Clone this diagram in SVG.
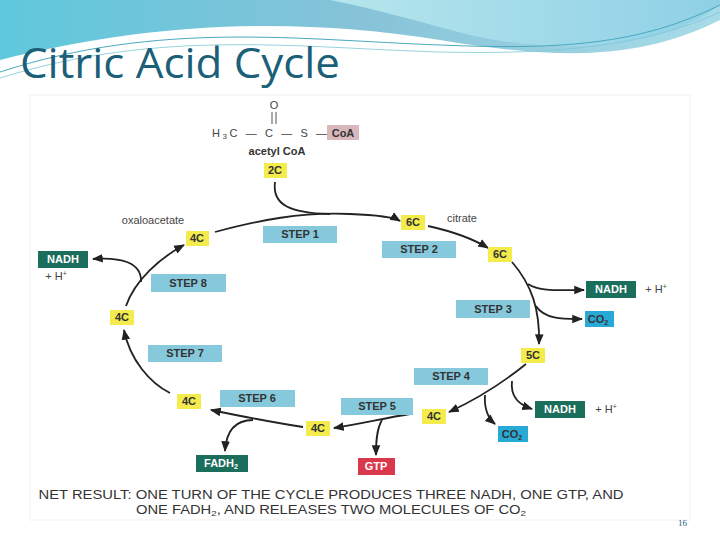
<svg xmlns="http://www.w3.org/2000/svg" width="720" height="540" viewBox="0 0 720 540">
<defs>
<linearGradient id="hdr" x1="0" y1="0" x2="1" y2="0"><stop offset="0" stop-color="#5fc8dc"/><stop offset="0.5" stop-color="#86c3d8"/><stop offset="1" stop-color="#a8dbe8"/></linearGradient>
<linearGradient id="hdr2" x1="0" y1="0" x2="1" y2="0"><stop offset="0" stop-color="#b6e6ec"/><stop offset="1" stop-color="#8fd0e6"/></linearGradient>
<marker id="ah" viewBox="0 0 10 10" refX="9" refY="5" markerWidth="6" markerHeight="6" orient="auto"><path d="M0,1 L10,5 L0,9 z" fill="#222"/></marker>
<style>
.c{fill:none;stroke:#222;stroke-width:1.8;marker-end:url(#ah)}
.y{fill:#f3ec4c}
.st{fill:#86c9dc}
.g{fill:#1b6d5c}
.cy{fill:#28a9d6}
.t{font-family:"Liberation Sans",Arial,sans-serif;font-weight:bold;font-size:11px;text-anchor:middle;fill:#333}
.tw{font-family:"Liberation Sans",Arial,sans-serif;font-weight:bold;font-size:11px;text-anchor:middle;fill:#fff}
.n{font-family:"Liberation Sans",Arial,sans-serif;font-size:11px;fill:#444}
.nr{font-family:"Liberation Sans",Arial,sans-serif;font-size:12px;fill:#333;text-anchor:middle}
</style>
</defs>
<rect width="720" height="540" fill="#fff"/>
<path d="M0,0 H720 V20 C640,60 560,60 440,40 C300,18 160,20 0,60 Z" fill="url(#hdr)"/>
<path d="M330,0 H720 V5 C660,50 560,55 470,35 C420,22 380,10 330,0 Z" fill="url(#hdr2)"/>
<path d="M0,72 C160,20 300,40 440,45 C560,50 640,45 720,5" fill="none" stroke="#4aa8c0" stroke-width="1"/>
<path d="M0,78 C160,28 300,48 440,52 C560,55 650,45 720,12" fill="none" stroke="#7cc6d6" stroke-width="0.8"/>
<text x="20" y="78" font-family="Open Sans,'Noto Sans',sans-serif" font-size="42" fill="#1b5f78" textLength="320" lengthAdjust="spacingAndGlyphs">Citric Acid Cycle</text>
<rect x="30" y="95" width="660" height="425" fill="#fff" stroke="#f0f0f0"/>

<g id="connectors">
<path class="c" d="M215,232 C260,220 300,212 350,214 C380,215 395,218 400,221"/>
<path fill="none" stroke="#222" stroke-width="1.8" d="M275,182 C272,205 290,213 330,214"/>
<path class="c" d="M428,226 C455,232 475,240 488,248"/>
<path class="c" d="M512,262 C532,285 540,310 539,344"/>
<path class="c" d="M528,284 C540,292 560,290 584,290"/>
<path class="c" d="M536,306 C545,320 565,319 582,319"/>
<path class="c" d="M526,364 C500,385 475,400 449,412"/>
<path class="c" d="M512,381 C510,398 520,405 532,409"/>
<path class="c" d="M485,395 C484,410 488,418 495,424"/>
<path class="c" d="M410,414 C385,418 360,424 334,428"/>
<path class="c" d="M382,420 C376,430 376,445 376,455"/>
<path class="c" d="M303,427 C270,422 240,416 211,410"/>
<path class="c" d="M253,420 C232,420 226,435 225,451"/>
<path class="c" d="M170,393 C150,383 130,360 124,330"/>
<path class="c" d="M126,306 C135,280 160,258 184,245"/>
<path class="c" d="M141,282 C142,262 120,257 93,259"/>
</g>

<g id="acetylcoa">
<text x="274" y="109" class="n" text-anchor="middle" font-size="12">O</text>
<line x1="272" y1="112" x2="272" y2="124" stroke="#555"/><line x1="276" y1="112" x2="276" y2="124" stroke="#555"/>
<rect x="327" y="125" width="32" height="15" fill="#d9b8bc"/>
<text x="212" y="137" class="n" font-size="12" textLength="115" lengthAdjust="spacing">H<tspan font-size="8" dy="2">3</tspan><tspan dy="-2">C — C — S —</tspan></text>
<text x="343" y="137" class="t" font-size="11.5" fill="#555">CoA</text>
<text x="277" y="155" class="t" fill="#444">acetyl CoA</text>
</g>
<g id="c2"><rect x="264" y="163" width="23" height="15" class="y"/><text x="275" y="174" class="t">2C</text></g>
<g id="oxaloacetate"><text x="153" y="224" class="n" text-anchor="middle">oxaloacetate</text></g>
<g id="c4a"><rect x="186" y="231" width="23" height="15" class="y"/><text x="197" y="242" class="t">4C</text></g>
<g id="step1"><rect x="263" y="226" width="74" height="17" class="st"/><text x="300" y="238" class="t">STEP 1</text></g>
<g id="c6a"><rect x="401" y="215" width="24" height="15" class="y"/><text x="413" y="226" class="t">6C</text></g>
<g id="citrate"><text x="462" y="222" class="n" text-anchor="middle">citrate</text></g>
<g id="step2"><rect x="382" y="241" width="74" height="17" class="st"/><text x="419" y="253" class="t">STEP 2</text></g>
<g id="c6b"><rect x="488" y="247" width="24" height="15" class="y"/><text x="500" y="258" class="t">6C</text></g>
<g id="nadh1"><rect x="586" y="281" width="50" height="17" class="g"/><text x="611" y="293" class="tw">NADH</text><text x="656" y="293" class="n" text-anchor="middle">+ H<tspan font-size="7" dy="-4">+</tspan></text></g>
<g id="co2a"><rect x="585" y="311" width="29" height="16" class="cy"/><text x="598" y="323" class="t">CO<tspan font-size="7" dy="2">2</tspan></text></g>
<g id="step3"><rect x="456" y="300" width="74" height="18" class="st"/><text x="493" y="313" class="t">STEP 3</text></g>
<g id="c5"><rect x="521" y="348" width="24" height="15" class="y"/><text x="533" y="359" class="t">5C</text></g>
<g id="step4"><rect x="414" y="368" width="74" height="17" class="st"/><text x="451" y="380" class="t">STEP 4</text></g>
<g id="nadh2"><rect x="535" y="401" width="50" height="17" class="g"/><text x="560" y="413" class="tw">NADH</text><text x="606" y="413" class="n" text-anchor="middle">+ H<tspan font-size="7" dy="-4">+</tspan></text></g>
<g id="c4b"><rect x="422" y="409" width="24" height="15" class="y"/><text x="434" y="420" class="t">4C</text></g>
<g id="co2b"><rect x="498" y="426" width="30" height="16" class="cy"/><text x="512" y="438" class="t">CO<tspan font-size="7" dy="2">2</tspan></text></g>
<g id="step5"><rect x="341" y="398" width="72" height="17" class="st"/><text x="377" y="410" class="t">STEP 5</text></g>
<g id="c4c"><rect x="306" y="421" width="24" height="15" class="y"/><text x="318" y="432" class="t">4C</text></g>
<g id="gtp"><rect x="358" y="458" width="37" height="17" fill="#d9374b"/><text x="376" y="470" class="tw">GTP</text></g>
<g id="step6"><rect x="220" y="390" width="75" height="17" class="st"/><text x="257" y="402" class="t">STEP 6</text></g>
<g id="c4d"><rect x="177" y="394" width="24" height="15" class="y"/><text x="189" y="405" class="t">4C</text></g>
<g id="fadh2"><rect x="196" y="455" width="52" height="17" class="g"/><text x="221" y="467" class="tw">FADH<tspan font-size="7" dy="2">2</tspan></text></g>
<g id="step7"><rect x="148" y="345" width="74" height="17" class="st"/><text x="185" y="357" class="t">STEP 7</text></g>
<g id="c4e"><rect x="110" y="310" width="24" height="15" class="y"/><text x="122" y="321" class="t">4C</text></g>
<g id="step8"><rect x="151" y="274" width="75" height="18" class="st"/><text x="188" y="287" class="t">STEP 8</text></g>
<g id="nadh3"><rect x="38" y="251" width="50" height="17" class="g"/><text x="63" y="263" class="tw">NADH</text><text x="56" y="280" class="n" text-anchor="middle">+ H<tspan font-size="7" dy="-4">+</tspan></text></g>
<g id="net">
<text x="331" y="499" class="nr" textLength="585" lengthAdjust="spacingAndGlyphs">NET RESULT: ONE TURN OF THE CYCLE PRODUCES THREE NADH, ONE GTP, AND</text>
<text x="331" y="514" class="nr" textLength="390" lengthAdjust="spacingAndGlyphs">ONE FADH<tspan font-size="8" dy="2">2</tspan><tspan dy="-2">, AND RELEASES TWO MOLECULES OF CO</tspan><tspan font-size="8" dy="2">2</tspan></text>
</g>
<text x="678" y="526" font-family="Liberation Serif,serif" font-size="9" fill="#1b5f78">16</text>
</svg>
